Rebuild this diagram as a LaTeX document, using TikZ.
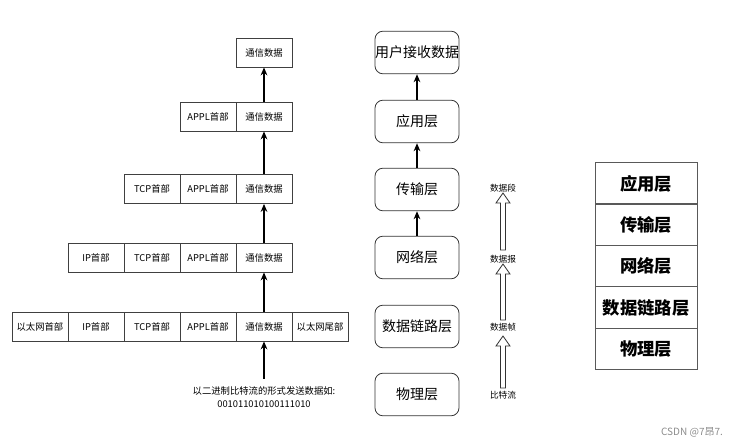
\documentclass[tikz,border=0pt]{standalone}
\usepackage{fontspec}
\setmainfont{Noto Sans CJK SC}
\usetikzlibrary{arrows.meta}
\begin{document}
\begin{tikzpicture}[x=0.75pt,y=-0.75pt,
  cell/.style={draw=black!75, line width=0.6pt, minimum width=42pt, minimum height=21.75pt, inner sep=0pt, font=\fontsize{7}{8}\selectfont},
  layerbox/.style={draw=black!80, line width=0.6pt, rounded corners=6pt, minimum width=63pt, minimum height=32pt, inner sep=0pt, font=\fontsize{10.5}{12}\selectfont},
  tabrow/.style={draw=black!65, line width=0.6pt, minimum width=76.5pt, minimum height=31pt, inner sep=0pt, font=\bfseries\fontsize{13}{15}\selectfont},
  uparrow/.style={-{Stealth[length=6pt,width=5pt]}, line width=1pt},
  hollow/.style={draw=black!80, fill=white, line width=0.6pt},
  unitlabel/.style={inner sep=0pt, font=\fontsize{6.5}{8}\selectfont}]
\useasboundingbox (0,0) rectangle (747,445);

% ---------- left stacks ----------
% row 5 (bottom)
\node[cell] (r5a) at (40,326.5) {以太网首部};
\node[cell] (r5b) at (96,326.5) {IP首部};
\node[cell] (r5c) at (152,326.5) {TCP首部};
\node[cell] (r5d) at (208,326.5) {APPL首部};
\node[cell] (r5e) at (264,326.5) {通信数据};
\node[cell] (r5f) at (320,326.5) {以太网尾部};
% row 4
\node[cell] (r4b) at (96,257.5) {IP首部};
\node[cell] (r4c) at (152,257.5) {TCP首部};
\node[cell] (r4d) at (208,257.5) {APPL首部};
\node[cell] (r4e) at (264,257.5) {通信数据};
% row 3
\node[cell] (r3c) at (152,189) {TCP首部};
\node[cell] (r3d) at (208,189) {APPL首部};
\node[cell] (r3e) at (264,189) {通信数据};
% row 2
\node[cell] (r2d) at (208,116.5) {APPL首部};
\node[cell] (r2e) at (264,116.5) {通信数据};
% row 1
\node[cell] (r1e) at (264,52.5) {通信数据};

\node[inner sep=0pt, align=center, font=\fontsize{7}{9.75}\selectfont] (bits) at (264,397.5)
  {以二进制比特流的形式发送数据如:\\001011010100111010};
\coordinate (bitstop) at (264,379);

\draw[uparrow] (bitstop) -- (r5e.south);
\draw[uparrow] (r5e.north) -- (r4e.south);
\draw[uparrow] (r4e.north) -- (r3e.south);
\draw[uparrow] (r3e.north) -- (r2e.south);
\draw[uparrow] (r2e.north) -- (r1e.south);

% ---------- middle layer boxes ----------
\node[layerbox] (user) at (417,52.5) {用户接收数据};
\node[layerbox] (app)  at (417,121.5) {应用层};
\node[layerbox] (tra)  at (417,189.5) {传输层};
\node[layerbox] (net)  at (417,257.5) {网络层};
\node[layerbox] (dl)   at (417,326.5) {数据链路层};
\node[layerbox] (phy)  at (417,394.5) {物理层};

\draw[uparrow] (app.north) -- (user.south);
\draw[uparrow] (tra.north) -- (app.south);
\draw[uparrow] (net.north) -- (tra.south);

% ---------- hollow arrows with unit labels ----------
\node[unitlabel] (u4) at (503,188) {数据段};
\node[unitlabel] (u3) at (503,259) {数据报};
\node[unitlabel] (u2) at (503,327) {数据帧};
\node[unitlabel] (u1) at (503,395) {比特流};

\foreach \b/\t in {388/336, 320/264, 250/193}{
  \draw[hollow] (500.5,\b) -- (500.5,\t+10) -- (496,\t+10) -- (503,\t)
     -- (510,\t+10) -- (505.5,\t+10) -- (505.5,\b) -- cycle;
}

% ---------- right table ----------
\node[tabrow] (t1) at (646,183.5) {应用层};
\node[tabrow] (t2) at (646,224.5) {传输层};
\node[tabrow] (t3) at (646,266)   {网络层};
\node[tabrow] (t4) at (646,307.5) {数据链路层};
\node[tabrow] (t5) at (646,349)   {物理层};

% ---------- watermark ----------
\node[inner sep=0pt, text=black!45, font=\fontsize{7.5}{9}\selectfont] (wm) at (692,432) {CSDN @7昂7.};
\end{tikzpicture}
\end{document}
